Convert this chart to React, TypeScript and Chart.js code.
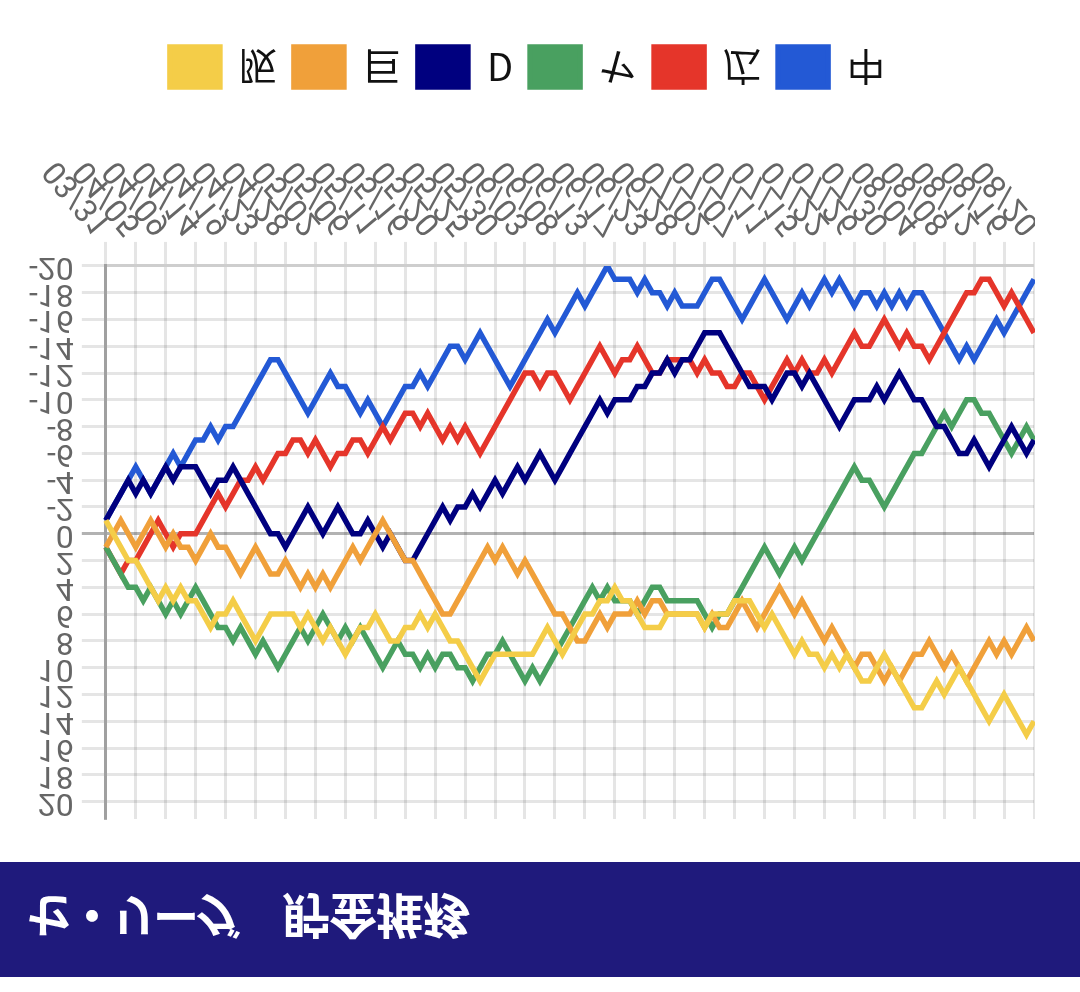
import { useEffect, useRef } from "react"
import { Chart, registerables } from "chart.js"

Chart.register(...registerables)

// game dates (x axis)
const dates = [
  "03/31",
  "04/01", "04/02", "04/04", "04/05", "04/06", "04/07", "04/08", "04/09", "04/10", "04/12",
  "04/13", "04/14", "04/15", "04/16", "04/17", "04/19", "04/20", "04/21", "04/22", "04/23",
  "04/24", "04/26", "04/27", "04/28", "04/29", "04/30",
  "05/01", "05/02", "05/03", "05/04", "05/05", "05/06", "05/07", "05/09", "05/10", "05/11",
  "05/12", "05/13", "05/14", "05/16", "05/17", "05/18", "05/19", "05/20", "05/21", "05/23",
  "05/24", "05/25", "05/26", "05/27", "05/28", "05/30", "05/31",
  "06/01", "06/02", "06/03", "06/04", "06/06", "06/07", "06/08", "06/09", "06/10", "06/11",
  "06/13", "06/14", "06/15", "06/16", "06/17", "06/18", "06/21", "06/22", "06/23", "06/24",
  "06/25", "06/27", "06/28", "06/29", "06/30",
  "07/01", "07/02", "07/04", "07/05", "07/06", "07/07", "07/08", "07/09", "07/10", "07/11",
  "07/12", "07/13", "07/14", "07/15", "07/16", "07/17", "07/21", "07/22", "07/23", "07/24",
  "07/25", "07/26", "07/27", "07/28", "07/29", "07/30",
  "08/01", "08/02", "08/03", "08/04", "08/05", "08/06", "08/07", "08/08", "08/09", "08/10",
  "08/11", "08/12", "08/13", "08/14", "08/15", "08/16", "08/17", "08/18", "08/19", "08/20",
]

// 貯金 (wins minus losses) per team
const hanshin = [
  -1, 0, 1, 2, 2, 3, 4, 5, 4, 5, 4, 5, 5, 6, 7, 6, 6, 5, 6, 7,
  8, 7, 6, 6, 6, 6, 7, 6, 7, 8, 7, 8, 9, 8, 7, 7, 6, 7, 8, 8,
  7, 7, 6, 7, 6, 7, 8, 8, 9, 10, 11, 10, 9, 9, 9, 9, 9, 9, 8, 7,
  8, 9, 8, 7, 6, 6, 5, 5, 4, 5, 5, 6, 7, 7, 7, 6, 6, 6, 6, 6,
  7, 6, 6, 6, 5, 5, 5, 6, 7, 6, 7, 8, 9, 8, 9, 9, 10, 9, 10, 9,
  10, 11, 11, 10, 9, 10, 11, 12, 13, 13, 12, 11, 12, 11, 10, 11, 12, 13, 14, 13,
  12, 13, 14, 15, 14,
]
const kyojin = [
  1, 0, -1, 0, 1, 0, -1, 0, 1, 0, 1, 1, 2, 1, 0, 1, 1, 2, 3, 2,
  1, 2, 3, 3, 2, 3, 4, 3, 4, 3, 4, 3, 2, 1, 2, 1, 0, -1, 0, 1,
  2, 2, 3, 4, 5, 6, 6, 5, 4, 3, 2, 1, 2, 1, 2, 3, 2, 3, 4, 5,
  6, 6, 7, 8, 8, 7, 6, 7, 6, 6, 6, 5, 6, 5, 5, 6, 6, 6, 6, 6,
  7, 6, 7, 7, 6, 5, 6, 7, 6, 5, 4, 5, 6, 5, 6, 7, 8, 7, 8, 9,
  10, 9, 9, 10, 11, 10, 11, 10, 9, 9, 8, 9, 10, 9, 10, 11, 10, 9, 8, 9,
  8, 9, 8, 7, 8,
]
const dena = [
  -1, -2, -3, -4, -3, -4, -3, -4, -5, -4, -5, -5, -5, -4, -3, -4, -4, -5, -4, -3,
  -2, -1, 0, 0, 1, 0, -1, -2, -1, 0, -1, -2, -1, 0, 0, -1, 0, 1, 0, 1,
  2, 2, 1, 0, -1, -2, -1, -2, -2, -3, -2, -3, -4, -3, -4, -5, -4, -5, -6, -5,
  -4, -5, -6, -7, -8, -9, -10, -9, -10, -10, -10, -11, -11, -12, -12, -13, -12, -13, -13, -14,
  -15, -15, -15, -14, -13, -12, -11, -11, -11, -10, -11, -12, -12, -11, -12, -11, -10, -9, -8, -9,
  -10, -10, -10, -11, -10, -11, -12, -11, -10, -10, -9, -8, -8, -7, -6, -6, -7, -6, -5, -6,
  -7, -8, -7, -6, -7,
]
const yakult = [
  1, 2, 3, 4, 4, 5, 4, 5, 6, 5, 6, 5, 4, 5, 6, 7, 7, 8, 7, 8,
  9, 8, 9, 10, 9, 8, 7, 8, 7, 6, 7, 8, 7, 8, 7, 8, 9, 10, 9, 8,
  9, 9, 10, 9, 10, 9, 9, 10, 10, 11, 10, 9, 9, 8, 9, 10, 11, 10, 11, 10,
  9, 8, 7, 6, 5, 4, 5, 4, 5, 5, 5, 6, 5, 4, 4, 5, 5, 5, 5, 5,
  6, 7, 6, 6, 5, 4, 3, 2, 1, 2, 3, 2, 1, 2, 1, 0, -1, -2, -3, -4,
  -5, -4, -4, -3, -2, -3, -4, -5, -6, -6, -7, -8, -9, -8, -9, -10, -10, -9, -9, -8,
  -7, -6, -7, -8, -7,
]
const hiroshima = [
  1, 2, 3, 2, 2, 1, 0, -1, 0, 1, 0, 0, 0, -1, -2, -3, -2, -3, -4, -4,
  -5, -4, -5, -6, -6, -7, -7, -6, -7, -6, -5, -6, -6, -7, -7, -6, -7, -8, -7, -8,
  -9, -9, -8, -9, -8, -7, -8, -7, -8, -7, -6, -7, -8, -9, -10, -11, -12, -12, -11, -12,
  -12, -11, -10, -11, -12, -13, -14, -13, -12, -13, -13, -14, -13, -12, -12, -13, -13, -13, -13, -12,
  -13, -12, -12, -11, -11, -12, -12, -11, -10, -11, -12, -13, -12, -13, -12, -12, -13, -12, -13, -14,
  -15, -14, -14, -15, -16, -15, -14, -15, -14, -14, -13, -14, -15, -16, -17, -18, -18, -19, -19, -18,
  -17, -18, -17, -16, -15,
]
const chunichi = [
  -1, -2, -3, -4, -5, -4, -3, -4, -5, -6, -5, -6, -7, -7, -8, -7, -8, -8, -9, -10,
  -11, -12, -13, -13, -12, -11, -10, -9, -10, -11, -12, -11, -11, -10, -9, -10, -9, -8, -9, -10,
  -11, -11, -12, -11, -12, -13, -14, -14, -13, -14, -15, -14, -13, -12, -11, -12, -13, -14, -15, -16,
  -15, -16, -17, -18, -17, -18, -19, -20, -19, -19, -19, -18, -19, -18, -18, -17, -18, -17, -17, -17,
  -18, -19, -19, -18, -17, -16, -17, -18, -19, -18, -17, -16, -17, -18, -17, -18, -19, -18, -19, -18,
  -17, -18, -18, -17, -18, -17, -18, -17, -18, -18, -17, -16, -15, -14, -13, -14, -13, -14, -15, -16,
  -15, -16, -17, -18, -19,
]

const yTicks = [-20, -18, -16, -14, -12, -10, -8, -6, -4, -2, 0, 2, 4, 6, 8, 10, 12, 14, 16, 18, 20]

const teams = [
  { label: "阪", data: hanshin, color: "#f4cd48" },
  { label: "巨", data: kyojin, color: "#f0a03a" },
  { label: "D", data: dena, color: "#00007f" },
  { label: "ヤ", data: yakult, color: "#49a060" },
  { label: "広", data: hiroshima, color: "#e5352a" },
  { label: "中", data: chunichi, color: "#2359d5" },
]

function SavingsChart() {
  const canvasRef = useRef<HTMLCanvasElement>(null)

  useEffect(() => {
    if (!canvasRef.current) return

    const chart = new Chart(canvasRef.current, {
      type: "line",
      data: {
        labels: dates,
        datasets: teams.map((t) => ({
          label: t.label,
          data: t.data,
          borderColor: t.color,
          backgroundColor: t.color,
          borderWidth: 5.5,
          pointRadius: 0,
          tension: 0,
          fill: false,
        })),
      },
      options: {
        responsive: true,
        maintainAspectRatio: false,
        animation: false,
        layout: { padding: { left: 21, right: 1, top: 43, bottom: 17 } },
        plugins: {
          legend: {
            position: "bottom",
            labels: {
              boxWidth: 50,
              boxHeight: 40,
              padding: 17,
              color: "#111",
              font: { size: 38, family: "'Noto Sans CJK JP', sans-serif" },
            },
          },
          tooltip: { enabled: false },
        },
        scales: {
          x: {
            afterBuildTicks: (axis: any) => {
              // show every 4th date
              axis.ticks = axis.ticks.filter((_: any, i: number) => i % 4 === 0)
            },
            afterFit: (axis: any) => {
              axis.paddingRight = 0
              axis.height = axis.height + 48
            },
            ticks: {
              autoSkip: false,
              minRotation: 50,
              maxRotation: 50,
              padding: 0,
              color: "#666",
              font: { size: 32, family: "Roboto" },
            },
            grid: { color: "rgba(0,0,0,0.1)", lineWidth: 3, tickLength: 24 },
            border: { color: "rgba(0,0,0,0.1)", width: 3 },
          },
          y: {
            min: -20,
            max: 21.3,
            afterBuildTicks: (axis: any) => {
              axis.ticks = yTicks.map((value) => ({ value }))
            },
            ticks: {
              autoSkip: false,
              padding: 8,
              color: "#666",
              font: { size: 32, family: "Roboto" },
            },
            grid: {
              color: (ctx: any) =>
                ctx.tick && ctx.tick.value === 0 ? "rgba(0,0,0,0.3)" : "rgba(0,0,0,0.1)",
              lineWidth: 3,
              tickLength: 24,
            },
            border: { color: "rgba(0,0,0,0.3)", width: 3 },
          },
        },
      },
    })

    return () => {
      chart.destroy()
    }
  }, [])

  return <canvas ref={canvasRef} />
}

export default function App() {
  return (
    <div
      style={{
        position: "fixed",
        left: 0,
        top: 0,
        width: 1080,
        height: 992,
        background: "#fff",
        overflow: "hidden",
        transform: "scaleY(-1)",
      }}
    >
      <div
        style={{
          position: "absolute",
          left: 0,
          top: 15,
          width: 1080,
          height: 115,
          background: "#1f1a7c",
          color: "#fff",
          display: "flex",
          alignItems: "center",
          paddingLeft: 27,
          boxSizing: "border-box",
          fontFamily: "'Noto Sans CJK JP', sans-serif",
          fontWeight: 700,
          whiteSpace: "nowrap",
        }}
      >
        <span style={{ fontSize: 46, letterSpacing: -4 }}>セ・リーグ</span>
        <span style={{ fontSize: 48, letterSpacing: -1, marginLeft: 45 }}>貯金推移</span>
      </div>
      <div style={{ position: "absolute", left: 0, top: 130, width: 1035, height: 842 }}>
        <SavingsChart />
      </div>
    </div>
  )
}
